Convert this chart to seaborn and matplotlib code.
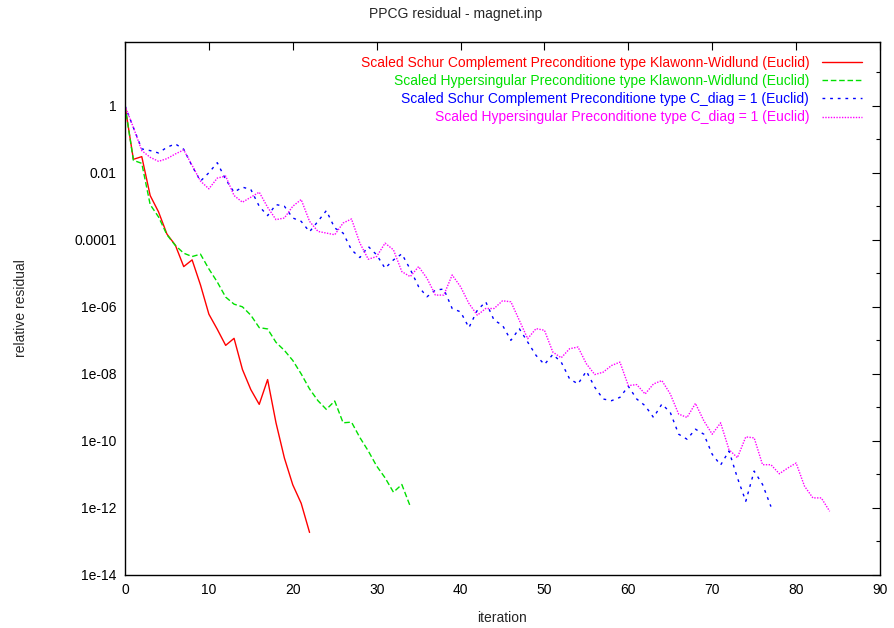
import numpy as np
import pandas as pd
import matplotlib
matplotlib.use("Agg")
import matplotlib.pyplot as plt
import matplotlib.ticker as mticker
import seaborn as sns

# log10 of the relative residual, one value per iteration (0, 1, 2, ...)
schur_kw = [0.0, -1.6, -1.52, -2.68, -3.17, -3.83, -4.16, -4.8, -4.6, -5.35,
            -6.22, -6.67, -7.15, -6.94, -7.87, -8.47, -8.91, -8.17, -9.46, -10.51,
            -11.31, -11.86, -12.73]

hyper_kw = [0.0, -1.63, -1.72, -2.95, -3.32, -3.85, -4.17, -4.4, -4.5, -4.43,
            -4.87, -5.26, -5.71, -5.92, -6.0, -6.25, -6.62, -6.66, -7.06, -7.3,
            -7.6, -8.0, -8.45, -8.8, -9.06, -8.81, -9.46, -9.44, -9.9, -10.3,
            -10.75, -11.1, -11.53, -11.3, -11.95]

schur_cdiag = [0.0, -0.65, -1.29, -1.34, -1.41, -1.24, -1.14, -1.3, -1.8, -2.25,
               -2.0, -1.7, -2.2, -2.58, -2.43, -2.5, -3.0, -3.28, -2.95, -3.0,
               -3.35, -3.45, -3.76, -3.45, -3.13, -3.65, -3.8, -4.3, -4.53, -4.2,
               -4.45, -4.85, -4.6, -4.42, -4.88, -5.4, -5.7, -5.5, -5.47, -6.05,
               -6.15, -6.62, -6.1, -5.85, -6.4, -6.55, -7.0, -6.65, -7.05, -7.45,
               -7.72, -7.42, -7.65, -8.15, -8.3, -7.92, -8.4, -8.75, -8.8, -8.7,
               -8.37, -8.75, -8.95, -9.3, -8.9, -9.15, -9.8, -9.95, -9.65, -9.8,
               -10.4, -10.72, -10.3, -11.1, -11.8, -10.9, -11.3, -11.96]

hyper_cdiag = [0.0, -0.65, -1.34, -1.54, -1.66, -1.58, -1.44, -1.32, -1.78, -2.25,
               -2.48, -2.16, -2.1, -2.68, -2.88, -2.73, -2.58, -3.03, -3.4, -3.35,
               -3.0, -2.8, -3.45, -3.75, -3.8, -3.85, -3.5, -3.38, -4.1, -4.58,
               -4.5, -4.1, -4.3, -4.95, -5.1, -4.8, -5.15, -5.65, -5.65, -5.05,
               -5.4, -5.9, -6.25, -6.05, -6.05, -5.82, -5.85, -6.4, -6.95, -6.65,
               -6.7, -7.35, -7.52, -7.25, -7.2, -7.7, -8.02, -7.95, -7.75, -7.65,
               -8.35, -8.32, -8.6, -8.3, -8.2, -8.6, -9.2, -9.3, -8.88, -9.4,
               -9.8, -9.46, -10.26, -10.5, -9.88, -9.91, -10.71, -10.71, -10.98, -10.81,
               -10.66, -11.35, -11.7, -11.7, -12.1]

labels = ["Scaled Schur Complement Preconditione type Klawonn-Widlund (Euclid)",
          "Scaled Hypersingular Preconditione type Klawonn-Widlund (Euclid)",
          "Scaled Schur Complement Preconditione type C_diag = 1 (Euclid)",
          "Scaled Hypersingular Preconditione type C_diag = 1 (Euclid)"]
colors = ["#ff0000", "#00e000", "#0000ff", "#ff00ff"]
styles = ["-", (0, (4, 2)), (0, (2, 3.5)), (0, (1, 1))]

ytick_vals = [1e-14, 1e-12, 1e-10, 1e-08, 1e-06, 1e-04, 1e-02, 1]
ytick_labels = ["1e-14", "1e-12", "1e-10", "1e-08", "1e-06", "0.0001", "0.01", "1"]

sns.set_theme(style="white")
plt.rcParams["font.family"] = ["Liberation Sans", "DejaVu Sans"]

fig = plt.figure(figsize=(8.95, 6.28), dpi=100)
ax = fig.add_axes([125 / 895, 53 / 628, 755 / 895, 533 / 628])

for vals, lab, col, ls in zip([schur_kw, hyper_kw, schur_cdiag, hyper_cdiag], labels, colors, styles):
    df = pd.DataFrame({"iteration": np.arange(len(vals)), "residual": 10.0 ** np.array(vals)})
    sns.lineplot(data=df, x="iteration", y="residual", ax=ax, color=col,
                 linestyle=ls, linewidth=1.0, label=lab)

ax.set_yscale("log")
ax.set_xlim(0, 90)
ax.set_ylim(1e-14, 10 ** 1.9)
ax.xaxis.set_major_locator(mticker.MultipleLocator(10))
ax.yaxis.set_major_locator(mticker.FixedLocator(ytick_vals))
ax.yaxis.set_major_formatter(mticker.FixedFormatter(ytick_labels))
ax.yaxis.set_minor_locator(mticker.FixedLocator([10.0 ** k for k in range(-13, 2, 2)]))
ax.yaxis.set_minor_formatter(mticker.NullFormatter())

ax.tick_params(which="both", direction="in", top=True, right=True, width=0.8,
               colors="black", labelsize=10)
ax.tick_params(which="major", length=6, pad=6)
ax.tick_params(which="minor", length=3)
for sp in ax.spines.values():
    sp.set_color("black")
    sp.set_linewidth(1.0)

ax.set_xlabel("iteration", fontsize=10, labelpad=10)
ax.set_ylabel("relative residual", fontsize=10)
ax.yaxis.set_label_coords(-97 / 755, 0.5)
fig.text(456 / 895, 1 - 14 / 628, "PPCG residual - magnet.inp", ha="center", va="center", fontsize=10)

leg = ax.legend(loc="upper right", bbox_to_anchor=(862 / 895, 1 - 56 / 628),
                bbox_transform=fig.transFigure, borderaxespad=0, borderpad=0,
                frameon=False, markerfirst=False, alignment="right",
                fontsize=10, handlelength=2.9, handletextpad=0.9, labelspacing=0.3)
for txt, col in zip(leg.get_texts(), colors):
    txt.set_color(col)

fig.savefig("out.png", dpi=100)
